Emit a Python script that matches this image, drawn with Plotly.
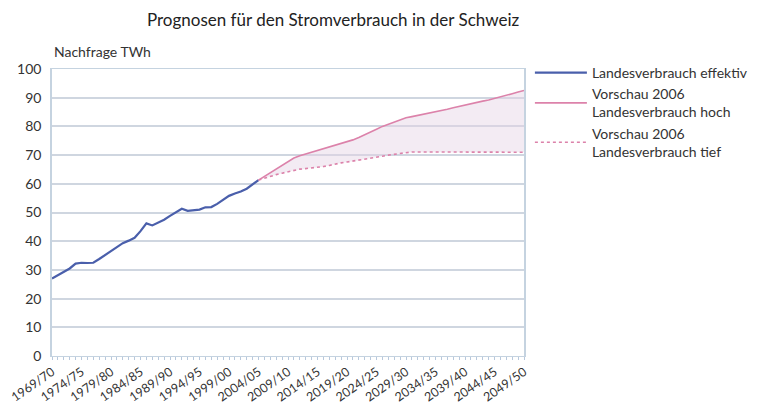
import plotly.graph_objects as go

# Categories: financial years 1969/70 .. 2049/50
start_years = list(range(1969, 2050))
categories = [f"{y}/{str(y + 1)[-2:]}" for y in start_years]
tick_labels = categories[::5]

# Actual national consumption (1969/70 .. 2004/05), TWh
effektiv = [27.0, 28.2, 29.3, 30.5, 32.2, 32.5, 32.4, 32.5, 33.8, 35.2,
            36.6, 38.0, 39.3, 40.2, 41.2, 43.5, 46.2, 45.5, 46.5, 47.5,
            48.8, 50.2, 51.3, 50.6, 50.8, 51.0, 51.8, 51.9, 53.0, 54.5,
            55.8, 56.6, 57.3, 58.3, 59.8, 61.3]

# Forecast 2006 (2004/05 .. 2049/50), TWh
hoch = [61.3, 62.6, 63.9, 65.2, 66.5, 67.8, 69.0, 69.8, 70.4, 71.0,
        71.6, 72.2, 72.8, 73.4, 74.0, 74.6, 75.3, 76.1, 77.0, 78.0,
        79.0, 80.0, 80.7, 81.5, 82.3, 83.0, 83.4, 83.8, 84.2, 84.6,
        85.0, 85.5, 86.0, 86.5, 87.0, 87.5, 88.0, 88.4, 88.8, 89.2,
        89.7, 90.2, 90.8, 91.4, 92.0, 92.5]
tief = [61.3, 62.0, 62.6, 63.2, 63.7, 64.2, 64.7, 65.1, 65.3, 65.5,
        65.7, 66.0, 66.4, 66.9, 67.3, 67.6, 67.9, 68.2, 68.6, 69.0,
        69.3, 69.6, 70.0, 70.3, 70.6, 70.9, 71.1, 71.1, 71.1, 71.1,
        71.1, 71.1, 71.1, 71.1, 71.1, 71.1, 71.1, 71.1, 71.1, 71.1,
        71.1, 71.1, 71.0, 71.0, 71.0, 71.0]

x_all = list(range(len(categories)))
x_eff = x_all[:len(effektiv)]
x_fc = x_all[len(effektiv) - 1:]

fig = go.Figure()

# band between forecasts
fig.add_trace(go.Scatter(
    x=x_fc + x_fc[::-1], y=hoch + tief[::-1], fill="toself",
    fillcolor="rgba(228,210,228,0.45)", line=dict(width=0),
    showlegend=False, hoverinfo="skip"))

fig.add_trace(go.Scatter(
    x=x_eff, y=effektiv, mode="lines", name="Landesverbrauch effektiv",
    line=dict(color="#4a5fab", width=2.2)))
fig.add_trace(go.Scatter(
    x=x_fc, y=hoch, mode="lines", name="Vorschau 2006<br>Landesverbrauch hoch",
    line=dict(color="#dc82aa", width=1.6)))
fig.add_trace(go.Scatter(
    x=x_fc, y=tief, mode="lines", name="Vorschau 2006<br>Landesverbrauch tief",
    line=dict(color="#dc82aa", width=1.6, dash="dot")))

grid_col = "#cfd6e0"
fig.update_layout(
    width=757, height=403,
    margin=dict(l=52, r=233, t=69, b=47, autoexpand=False),
    paper_bgcolor="white", plot_bgcolor="white",
    font=dict(family="Lato, Open Sans, sans-serif", size=12, color="#333"),
    title=dict(text="Prognosen für den Stromverbrauch in der Schweiz",
               x=0.44, xanchor="center", y=0.95, yanchor="middle",
               font=dict(size=17, color="#222")),
    showlegend=True,
    legend=dict(x=1.0125, xanchor="left", y=1.042, yanchor="top",
                font=dict(size=14, color="#333"), bgcolor="rgba(0,0,0,0)",
                tracegroupgap=0, itemwidth=52),
    annotations=[dict(text="Nachfrage TWh", xref="paper", yref="paper",
                      x=0, y=1.025, xanchor="left", yanchor="bottom",
                      showarrow=False, font=dict(size=14, color="#333"))],
)
fig.update_xaxes(
    range=[0, 80], tickmode="array", tickvals=x_all[::5], ticktext=tick_labels,
    tickangle=-35, tickfont=dict(size=12.5, color="#333"),
    showgrid=False, zeroline=False, automargin=False,
    showline=True, linecolor="#c5d3e0", linewidth=1, mirror=True,
    ticks="outside", ticklen=3, tickcolor="#b8c8dc",
    minor=dict(dtick=1, ticks="outside", ticklen=3, tickcolor="#b8c8dc"),
)
fig.update_yaxes(
    range=[0, 100], dtick=10, tickfont=dict(size=14, color="#333"),
    showgrid=True, gridcolor=grid_col, gridwidth=1.5, zeroline=False,
    showline=True, linecolor="#c5d3e0", linewidth=1.5, mirror=True,
    ticks="", ticklabelstandoff=6, automargin=False,
)

fig.write_html(
    "out.html",
    config={"displayModeBar": False},
    post_script="document.body.style.margin='0';document.body.style.padding='0';",
)
